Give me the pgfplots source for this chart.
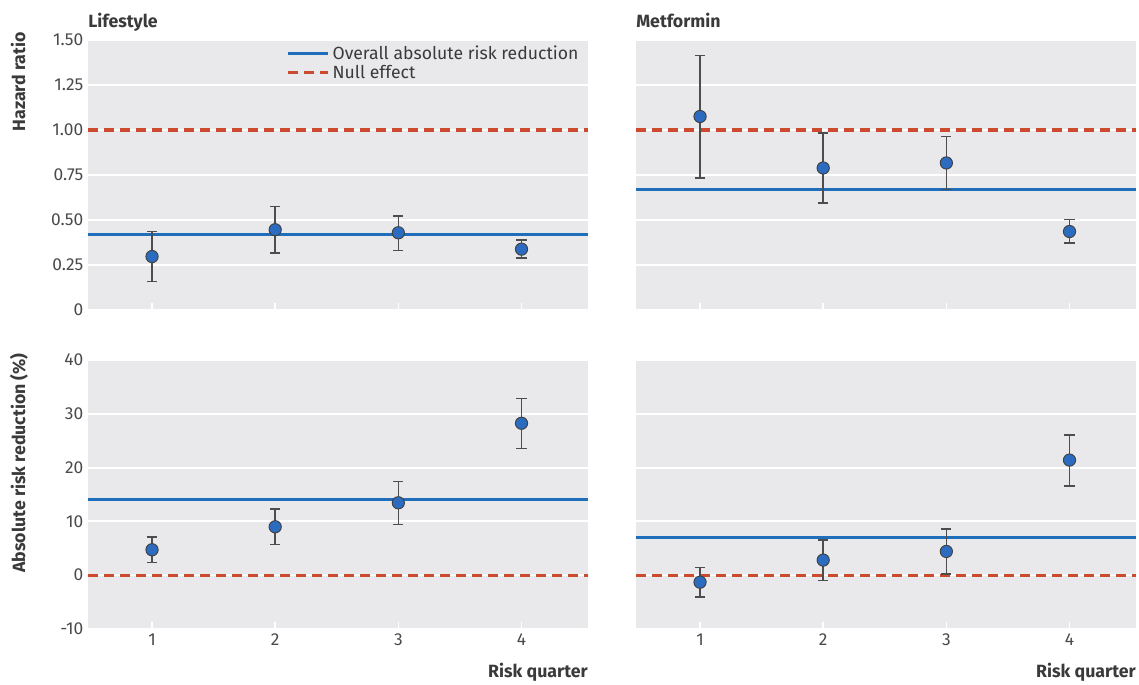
\documentclass[border=0pt]{standalone}
\usepackage{pgfplots}
\usepackage{pgfplotstable}
\pgfplotsset{compat=1.18}
\usepackage{fontspec}
\setmainfont{Fira Sans}

\definecolor{bg}{HTML}{E9E9EB}
\definecolor{lineblue}{HTML}{1E6EBB}
\definecolor{nullred}{HTML}{CC4B2E}
\definecolor{txt}{HTML}{3A3A3A}
\definecolor{ticktxt}{HTML}{4A4A4A}
\definecolor{mk}{HTML}{2C6CC0}
\definecolor{err}{HTML}{4D4D4D}

\pgfplotstableread{
x y ep em
1 0.297 0.139 0.139
2 0.446 0.128 0.129
3 0.429 0.094 0.097
4 0.338 0.052 0.050
}\hrlife
\pgfplotstableread{
x y ep em
1 1.075 0.338 0.342
2 0.789 0.195 0.195
3 0.817 0.148 0.147
4 0.436 0.067 0.065
}\hrmet
\pgfplotstableread{
x y ep em
1 4.73 2.35 2.41
2 9.00 3.30 3.28
3 13.46 3.96 4.03
4 28.24 4.64 4.70
}\arrlife
\pgfplotstableread{
x y ep em
1 -1.30 2.75 2.77
2 2.81 3.77 3.81
3 4.42 4.21 4.21
4 21.40 4.70 4.80
}\arrmet

\pgfplotsset{
  panel/.style={
    scale only axis, width=375pt,
    xmin=0.48, xmax=4.54, xtick={1,2,3,4},
    axis line style={draw=none},
    axis background/.style={fill=bg},
    ymajorgrids, grid style={white, line width=1.5pt},
    xtick pos=lower, ytick pos=left,
    tick align=inside, major tick length=5pt,
    xtick style={white, line width=1.2pt},
    ytick style={draw=none},
    tick label style={font=\fontsize{13}{15}\selectfont, text=ticktxt},
    legend image code/.code={\draw[##1] (0pt,0pt) -- (30pt,0pt);},
  },
  pts/.style={only marks, mark=*, mark size=4.6pt,
    mark options={fill=mk, draw=black!75, line width=0.7pt},
    error bars/y dir=both, error bars/y explicit,
    error bars/error bar style={draw=err, line width=1.1pt, solid},
    error bars/error mark options={rotate=90, mark size=3.8pt, line width=1.1pt, draw=err}},
  overall/.style={lineblue, line width=2.3pt},
  null/.style={nullred, line width=2.3pt, dash pattern=on 7.5pt off 4.5pt},
}

\begin{document}
\begin{tikzpicture}
\path[use as bounding box] (0,0) rectangle (854.25pt,-513.75pt);

% Top-left: Lifestyle hazard ratio
\begin{axis}[panel, at={(66pt,-232.5pt)}, anchor=south west, height=202.5pt,
  ymin=0, ymax=1.5, ytick={0,0.25,0.5,0.75,1,1.25,1.5},
  yticklabels={0,0.25,0.50,0.75,1.00,1.25,1.50},
  xticklabels={},
  legend style={at={(1,1)}, anchor=north east, draw=none, fill=none,
    font=\fontsize{13.2}{15}\selectfont, text=txt, row sep=-1pt,
    inner sep=2pt, xshift=-3pt, yshift=0pt},
  legend cell align=left]
\addplot[overall] coordinates {(0.48,0.4195) (4.54,0.4195)};
\addlegendentry{Overall absolute risk reduction}
\addplot[null] coordinates {(0.48,1) (4.54,1)};
\addlegendentry{Null effect}
\addplot[forget plot, pts] table[x=x, y=y, y error plus=ep, y error minus=em] {\hrlife};
\end{axis}

% Top-right: Metformin hazard ratio
\begin{axis}[panel, at={(477pt,-232.5pt)}, anchor=south west, height=202.5pt,
  ymin=0, ymax=1.5, ytick={0,0.25,0.5,0.75,1,1.25,1.5},
  yticklabels={}, xticklabels={}]
\addplot[overall] coordinates {(0.48,0.668) (4.54,0.668)};
\addplot[null] coordinates {(0.48,1) (4.54,1)};
\addplot[pts] table[x=x, y=y, y error plus=ep, y error minus=em] {\hrmet};
\end{axis}

% Bottom-left: Lifestyle ARR
\begin{axis}[panel, at={(66pt,-471.75pt)}, anchor=south west, height=201.75pt,
  ymin=-10, ymax=40, ytick={-10,0,10,20,30,40},
  yticklabels={-10,0,10,20,30,40},
  xticklabels={1,2,3,4}]
\addplot[overall] coordinates {(0.48,14.14) (4.54,14.14)};
\addplot[null] coordinates {(0.48,0) (4.54,0)};
\addplot[pts] table[x=x, y=y, y error plus=ep, y error minus=em] {\arrlife};
\end{axis}

% Bottom-right: Metformin ARR
\begin{axis}[panel, at={(477pt,-471.75pt)}, anchor=south west, height=201.75pt,
  ymin=-10, ymax=40, ytick={-10,0,10,20,30,40},
  yticklabels={},
  xticklabels={1,2,3,4}]
\addplot[overall] coordinates {(0.48,7.08) (4.54,7.08)};
\addplot[null] coordinates {(0.48,0) (4.54,0)};
\addplot[pts] table[x=x, y=y, y error plus=ep, y error minus=em] {\arrmet};
\end{axis}

% Titles and labels
\node[anchor=base west, font=\bfseries\fontsize{13.3}{15}\selectfont, text=txt, inner sep=0pt] at (66pt,-21pt) {Lifestyle};
\node[anchor=base west, font=\bfseries\fontsize{13.3}{15}\selectfont, text=txt, inner sep=0pt] at (477pt,-21pt) {Metformin};
\node[rotate=90, anchor=base east, font=\bfseries\fontsize{13.3}{15}\selectfont, text=txt, inner sep=0pt] at (18.75pt,-24pt) {Hazard ratio};
\node[rotate=90, anchor=base east, font=\bfseries\fontsize{13.3}{15}\selectfont, text=txt, inner sep=0pt] at (18.75pt,-264.75pt) {Absolute risk reduction (\%)};
\node[anchor=base east, font=\bfseries\fontsize{13.3}{15}\selectfont, text=txt, inner sep=0pt] at (441pt,-507.75pt) {Risk quarter};
\node[anchor=base east, font=\bfseries\fontsize{13.3}{15}\selectfont, text=txt, inner sep=0pt] at (852pt,-507.75pt) {Risk quarter};
\end{tikzpicture}
\end{document}
